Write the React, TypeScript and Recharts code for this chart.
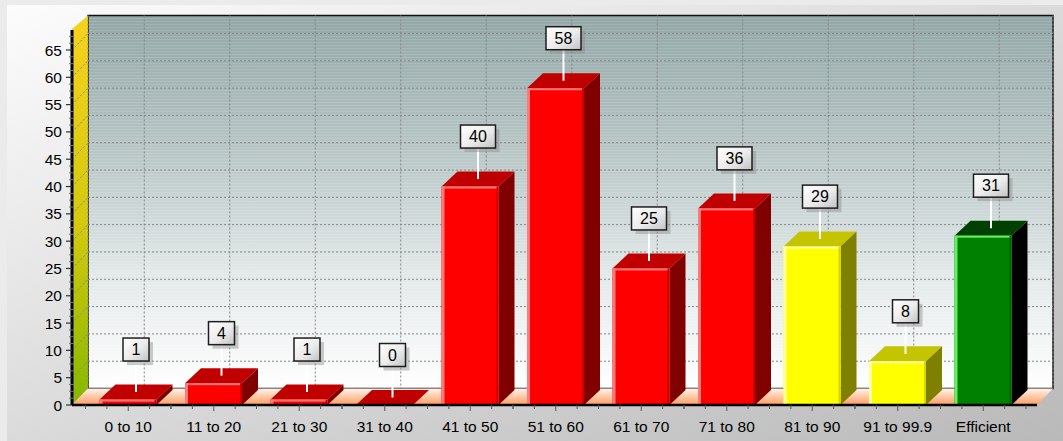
import { Bar, BarChart, CartesianGrid, LabelList, XAxis, YAxis } from 'recharts'

const categories = ['0 to 10', '11 to 20', '21 to 30', '31 to 40', '41 to 50', '51 to 60', '61 to 70', '71 to 80', '81 to 90', '91 to 99.9', 'Efficient']
const counts = [1, 4, 1, 0, 40, 58, 25, 36, 29, 8, 31]
const grades = ['red', 'red', 'red', 'red', 'red', 'red', 'red', 'red', 'yellow', 'yellow', 'green']
// major ticks every 5, minor ticks every 1.25
const yTicks = Array.from({ length: 55 }, (_, i) => i * 1.25)

const data = categories.map((name, i) => ({ name, count: counts[i], grade: grades[i] }))

const W = 1063
const H = 441
const PLOT_L = 72
const PLOT_R = 1037
const PLOT_T = 30
const PLOT_B = 405
const PAD_L = 13.5
const PAD_R = 11
const Y_MAX = 68.66
const BAND = (PLOT_R - PLOT_L - PAD_L - PAD_R) / categories.length

// depth of the 3D walls and boxes
const WALL_DX = 16
const WALL_DY = 16.5
const WALL_TOP = 15.5
const BOX_DX = 16
const BOX_DY = 15

const FONT = '"Liberation Sans", Arial, sans-serif'

const faces: Record<string, { front: string; top: string; side: string; light: string; edge: string }> = {
  red: { front: '#ff0000', top: '#c00000', side: '#800000', light: '#ff7a7a', edge: '#cc0000' },
  yellow: { front: '#ffff00', top: '#c4c400', side: '#808000', light: '#ffff9c', edge: '#d6d600' },
  green: { front: '#008000', top: '#004000', side: '#000000', light: '#62f062', edge: '#006400' },
}

const isMajor = (v: number) => {
  const r = ((v % 5) + 5) % 5
  return r < 0.01 || r > 4.99
}

function Box3D(props: any) {
  const { x, y, width: w, height: h, payload, index } = props
  const f = faces[payload?.grade ?? grades[index]]
  const hh = Math.max(h, 0)
  return (
    <g>
      <polygon
        points={`${x},${y} ${x + BOX_DX},${y - BOX_DY} ${x + w + BOX_DX},${y - BOX_DY} ${x + w},${y}`}
        fill={f.top}
      />
      <polygon
        points={`${x + w},${y} ${x + w + BOX_DX},${y - BOX_DY} ${x + w + BOX_DX},${y + hh - BOX_DY} ${x + w},${y + hh}`}
        fill={f.side}
      />
      {hh > 0 && (
        <>
          <rect x={x} y={y} width={w} height={hh} fill={f.front} />
          <rect x={x} y={y} width={3} height={hh} fill={f.light} />
          <rect x={x} y={y} width={w} height={Math.min(2, hh)} fill={f.light} />
          <rect x={x + w - 2} y={y} width={2} height={hh} fill={f.edge} />
        </>
      )}
    </g>
  )
}

function ValueTag(props: any) {
  const { x, y, width, value } = props
  const cx = x + width / 2 + BOX_DX / 2
  const topY = y - BOX_DY / 2
  const text = String(value)
  const bw = 17 + 9 * text.length
  const bh = 23
  const bottom = topY - 31
  return (
    <g>
      <line x1={cx} y1={topY} x2={cx} y2={bottom} stroke="#ffffff" strokeWidth={2} />
      <rect x={cx - bw / 2 + 4} y={bottom - bh + 4} width={bw} height={bh} fill="#8c8c8c" opacity={0.45} />
      <rect x={cx - bw / 2} y={bottom - bh} width={bw} height={bh} fill="url(#tagFill)" stroke="#1e1e1e" strokeWidth={1.5} />
      <text x={cx} y={bottom - bh / 2} dy="0.36em" textAnchor="middle" fontFamily={FONT} fontSize={16} fill="#000">
        {text}
      </text>
    </g>
  )
}

function CountTick(props: any) {
  const { x, y, payload } = props
  const v = payload.value
  if (!isMajor(v)) {
    return <line x1={x - 3} x2={x + 2} y1={y} y2={y} stroke="#777" strokeWidth={1} />
  }
  return (
    <g>
      <line x1={x - 6} x2={x} y1={y} y2={y} stroke="#333" strokeWidth={1.2} />
      <text x={x - 10} y={y} dy="0.36em" textAnchor="end" fontFamily={FONT} fontSize={15.5} fill="#000">
        {v}
      </text>
    </g>
  )
}

function CategoryTick(props: any) {
  const { x, y, payload } = props
  const marks = [-0.5, -0.25, 0, 0.25, 0.5]
  return (
    <g>
      {marks.map((m) => (
        <line key={m} x1={x + m * BAND} x2={x + m * BAND} y1={y} y2={y + (m === 0 ? 6 : 4)} stroke="#555" strokeWidth={1} />
      ))}
      <text x={x} y={y + 27} textAnchor="middle" fontFamily={FONT} fontSize={15.5} fill="#000">
        {payload.value}
      </text>
    </g>
  )
}

// grid lines are pushed onto the back wall, with a diagonal run across the side wall
function WallHLine(props: any) {
  const { x1, x2, y1 } = props
  const v = ((PLOT_B - y1) / (PLOT_B - PLOT_T)) * Y_MAX
  if (v < 1 || !isMajor(Math.round(v * 4) / 4)) return <g key={props.key} />
  const by = y1 - WALL_DY
  return (
    <g key={props.key} stroke="#858585" strokeWidth={1} strokeDasharray="2 2" fill="none">
      <line x1={x1} y1={y1} x2={x1 + WALL_DX} y2={by} />
      <line x1={x1 + WALL_DX} y1={by} x2={x2 + WALL_DX} y2={by} />
    </g>
  )
}

function WallVLine(props: any) {
  const { x1, y2 } = props
  return (
    <line
      key={props.key}
      x1={x1 + WALL_DX}
      x2={x1 + WALL_DX}
      y1={WALL_TOP}
      y2={y2 - WALL_DY}
      stroke="#858585"
      strokeWidth={1}
      strokeDasharray="2 2"
    />
  )
}

function Scenery() {
  const bx = PLOT_L + WALL_DX
  const bRight = PLOT_R + WALL_DX
  const bBottom = PLOT_B - WALL_DY
  return (
    <svg width={W} height={H} style={{ position: 'absolute', left: 0, top: 0 }}>
      <defs>
        <linearGradient id="panelFill" x1="0" y1="0" x2="1" y2="1">
          <stop offset="0%" stopColor="#fcfcfc" />
          <stop offset="100%" stopColor="#b9b9b9" />
        </linearGradient>
        <linearGradient id="backWall" x1="0" y1="0" x2="0" y2="1">
          <stop offset="0%" stopColor="#93a7a7" />
          <stop offset="35%" stopColor="#b7c5c5" />
          <stop offset="70%" stopColor="#e3e9e9" />
          <stop offset="100%" stopColor="#ffffff" />
        </linearGradient>
        <pattern id="wallStripes" width="4" height="3" patternUnits="userSpaceOnUse">
          <rect width="4" height="1" fill="#ffffff" opacity="0.12" />
        </pattern>
        <linearGradient id="sideWall" x1="0" y1="0" x2="0" y2="1">
          <stop offset="0%" stopColor="#f7d21c" />
          <stop offset="55%" stopColor="#d2c90e" />
          <stop offset="100%" stopColor="#86b800" />
        </linearGradient>
        <linearGradient id="floorFill" x1="0" y1="0" x2="0" y2="1">
          <stop offset="0%" stopColor="#fff4ec" />
          <stop offset="100%" stopColor="#ff9c60" />
        </linearGradient>
        <linearGradient id="tagFill" x1="0" y1="0" x2="1" y2="1">
          <stop offset="0%" stopColor="#ffffff" />
          <stop offset="55%" stopColor="#ebebeb" />
          <stop offset="100%" stopColor="#c2c2c2" />
        </linearGradient>
      </defs>
      <rect x={0} y={0} width={W} height={H} fill="#ebebeb" />
      <rect x={7} y={5} width={W - 7} height={H - 5} fill="url(#panelFill)" />
      <rect x={bx} y={WALL_TOP} width={bRight - bx} height={bBottom - WALL_TOP} fill="url(#backWall)" />
      <rect x={bx} y={WALL_TOP} width={bRight - bx} height={bBottom - WALL_TOP} fill="url(#wallStripes)" />
      <rect x={bx} y={WALL_TOP} width={bRight - bx} height={bBottom - WALL_TOP} fill="none" stroke="#111" strokeWidth={1.5} />
      <polygon
        points={`${PLOT_L},${PLOT_B} ${PLOT_L},${PLOT_T - 1} ${bx},${WALL_TOP} ${bx},${bBottom}`}
        fill="url(#sideWall)"
      />
      <polygon
        points={`${PLOT_L},${PLOT_B} ${PLOT_R},${PLOT_B} ${bRight},${bBottom} ${bx},${bBottom}`}
        fill="url(#floorFill)"
      />
    </svg>
  )
}

export default function App() {
  return (
    <div style={{ position: 'absolute', left: 0, top: 0, width: W, height: H, overflow: 'hidden' }}>
      <Scenery />
      <div style={{ position: 'absolute', left: 0, top: 0 }}>
        <BarChart width={W} height={H} data={data} margin={{ top: PLOT_T, right: W - PLOT_R, bottom: 6, left: 0 }}>
          <CartesianGrid yAxisId="v" horizontal={WallHLine} vertical={WallVLine} />
          <XAxis
            dataKey="name"
            height={H - PLOT_B - 6}
            padding={{ left: PAD_L, right: PAD_R }}
            interval={0}
            axisLine={{ stroke: '#000', strokeWidth: 2.5 }}
            tickLine={false}
            tickSize={0}
            tickMargin={0}
            tick={<CategoryTick />}
          />
          <YAxis
            yAxisId="v"
            width={PLOT_L}
            domain={[0, Y_MAX]}
            ticks={yTicks}
            interval={0}
            axisLine={{ stroke: '#000', strokeWidth: 3 }}
            tickLine={false}
            tickSize={0}
            tickMargin={0}
            tick={<CountTick />}
          />
          <Bar yAxisId="v" dataKey="count" barSize={57} shape={Box3D} isAnimationActive={false}>
            <LabelList dataKey="count" content={ValueTag} />
          </Bar>
        </BarChart>
      </div>
    </div>
  )
}
